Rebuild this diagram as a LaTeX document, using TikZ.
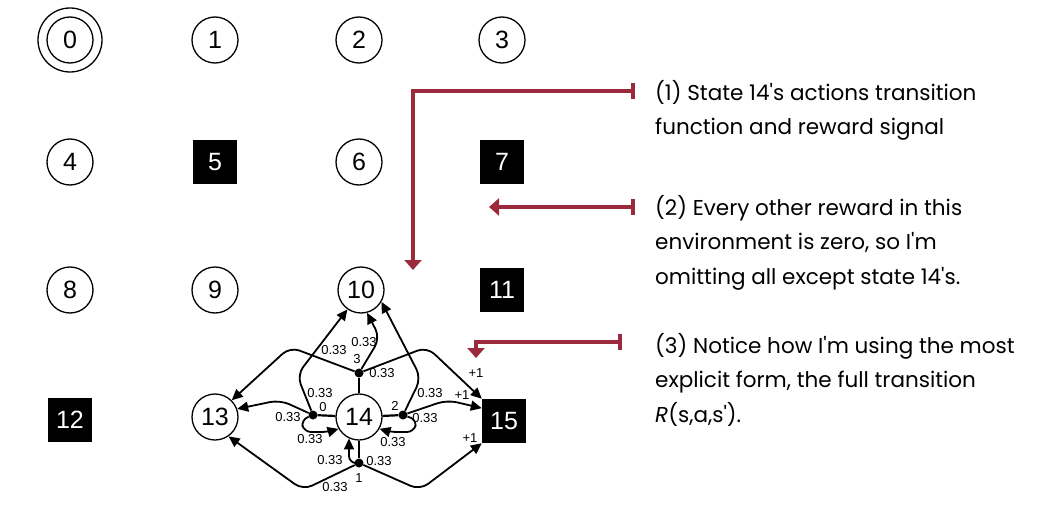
\documentclass[tikz,border=0pt]{standalone}
\usepackage{fontspec}
\setmainfont{Liberation Sans}
\newfontfamily\handfont{Poppins}
\usetikzlibrary{arrows.meta}
\definecolor{annored}{RGB}{155,43,60}
\begin{document}
\begin{tikzpicture}[x=1pt,y=-1pt,
  state/.style={circle, draw, line width=1.3pt, minimum size=46pt, inner sep=0pt, font=\fontsize{25}{25}\selectfont},
  term/.style={rectangle, fill=black, text=white, minimum size=44pt, inner sep=0pt, font=\fontsize{25}{25}\selectfont},
  act/.style={circle, fill=black, minimum size=9pt, inner sep=0pt},
  edge/.style={line width=1.8pt, -{Triangle[length=11pt,width=10pt]}, rounded corners=10pt},
  stem/.style={line width=2.2pt},
  lbl/.style={font=\fontsize{13}{13}\selectfont, inner sep=0pt},
  note/.style={font=\handfont\fontsize{21.5}{34.5}\selectfont, align=left, anchor=base west, inner sep=0pt},
  ann/.style={draw=annored, line width=4pt, {Bar[width=16pt]}-{Triangle[width=17pt,length=10pt]}}
]
\useasboundingbox (0,0) rectangle (1048,508);
% grid of states
\node[state] (n0) at (70,40) {0};
\draw[line width=1.3pt] (n0.center) circle (32pt);
\node[state] (n1) at (215,40) {1};
\node[state] (n2) at (359,40) {2};
\node[state] (n3) at (502,40) {3};
\node[state] (n4) at (70,162) {4};
\node[term] (n5) at (215,162) {5};
\node[state] (n6) at (359,162) {6};
\node[term] (n7) at (502,162) {7};
\node[state] (n8) at (70,290) {8};
\node[state] (n9) at (215,290) {9};
\node[state] (n10) at (361,290) {10};
\node[term] (n11) at (502,290) {11};
\node[term] (n12) at (70,420) {12};
\node[state] (n13) at (215,417) {13};
\node[state] (n14) at (359,417) {14};
\node[term] (n15) at (504,421) {15};
% action nodes
\node[act] (a0) at (313,415) {};
\node[act] (a1) at (359,463) {};
\node[act] (a2) at (403,415) {};
\node[act] (a3) at (359,373) {};
\draw[stem] (n14) -- (a0);
\draw[stem] (n14) -- (a1);
\draw[stem] (n14) -- (a2);
\draw[stem] (n14) -- (a3);
% action 3
\draw[edge] (a3) -- (380,338) -- (n10.-75);
\draw[edge] (a3) -- (290,347) -- (n13.45);
\draw[edge] (a3) -- (427,347) -- (n15.135);
% action 0
\draw[edge] (a0) -- (297,375) -- (n10.-125);
\draw[edge] (a0) -- (280,400) -- (n13.20);
\draw[edge, rounded corners=7pt] (a0) -- (301,420) -- (304,432) -- (328,432) -- (n14.-150);
% action 2
\draw[edge] (a2) -- (421,378) -- (n10.-30);
\draw[edge] (a2) -- (447,400) -- (n15.150);
\draw[edge, rounded corners=7pt] (a2) -- (417,420) -- (414,432) -- (390,432) -- (n14.-30);
% action 1
\draw[edge, rounded corners=7pt] (a1) -| (n14.-115);
\draw[edge] (a1) -- (303,490) -- (n13.-55);
\draw[edge] (a1) -- (420,490) -- (n15.-135);
% labels
\node[lbl] (l3) at (357,359) {3};
\node[lbl] (l310) at (364,342) {0.33};
\node[lbl] (l313) at (334,350) {0.33};
\node[lbl] (l315) at (382,373) {0.33};
\node[lbl] (r315) at (476,373) {+1};
\node[lbl] (l0) at (323,407) {0};
\node[lbl] (l010) at (320,393) {0.33};
\node[lbl] (l013) at (288,417) {0.33};
\node[lbl] (l014) at (310,439) {0.33};
\node[lbl] (l2) at (395,406) {2};
\node[lbl] (l210) at (430,393) {0.33};
\node[lbl] (r215) at (462,395) {+1};
\node[lbl] (l215) at (425,418) {0.33};
\node[lbl] (l214) at (393,442) {0.33};
\node[lbl] (l114) at (330,460) {0.33};
\node[lbl] (l115) at (379,461) {0.33};
\node[lbl] (l1) at (359,478) {1};
\node[lbl] (l113) at (335,487) {0.33};
\node[lbl] (r115) at (470,438) {+1};
% annotations (anchor at baseline of last line)
\node[note] (t1) at (655,135) {(1) State 14's actions transition\\function and reward signal};
\node[note] (t2) at (655,284) {(2) Every other reward in this\\environment is zero, so I'm\\omitting all except state 14's.};
\node[note] (t3) at (655,422) {(3) Notice how I'm using the most\\explicit form, the full transition\\\textit{R}(s,a,s').};
\coordinate (b1) at (635,91);
\coordinate (e1) at (413,270);
\coordinate (b2) at (635,207);
\coordinate (e2) at (489,207);
\coordinate (b3) at (622,342);
\coordinate (e3) at (476,358);
\draw[ann] (b1) -| (e1);
\draw[ann] (b2) -- (e2);
\draw[ann] (b3) -| (e3);
\end{tikzpicture}
\end{document}
